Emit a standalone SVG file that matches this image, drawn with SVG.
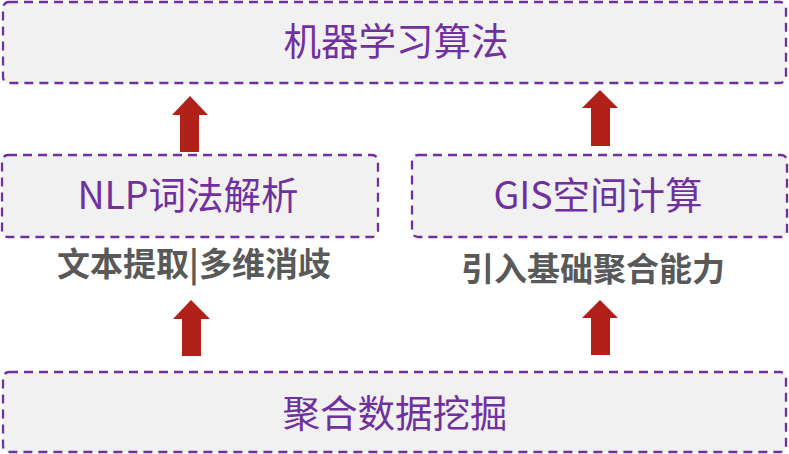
<svg xmlns="http://www.w3.org/2000/svg" width="789" height="454" viewBox="0 0 789 454">
<style>
.box{fill:#F1F1F1;stroke:#7030A0;stroke-width:2.3;stroke-dasharray:9 6}
.t{font-family:"Noto Sans CJK SC","Noto Sans",sans-serif;font-size:37.5px;fill:#7030A0;text-anchor:middle}
.l{font-family:"Noto Sans CJK SC","Noto Sans",sans-serif;font-size:33px;font-weight:bold;fill:#595959;text-anchor:middle}
.arr{fill:#B2201A}
</style>
<rect width="789" height="454" fill="#FFFFFF"/>
<g id="ml">
<rect class="box" x="3" y="2" width="783" height="81" rx="6"/>
<text class="t" x="396" y="55">机器学习算法</text>
</g>
<g id="nlp">
<rect class="box" x="2" y="155" width="376" height="82" rx="6"/>
<text class="t" x="188" y="209">NLP词法解析</text>
</g>
<g id="gis">
<rect class="box" x="412" y="155" width="375" height="82" rx="6"/>
<text class="t" x="598" y="209">GIS空间计算</text>
</g>
<g id="mining">
<rect class="box" x="3" y="372" width="783" height="80" rx="6"/>
<text class="t" x="395" y="427">聚合数据挖掘</text>
</g>
<g id="connectors">
<polygon class="arr" points="190,96 208,115 199,115 199,152 180,152 180,115 172,115"/>
<polygon class="arr" points="600,90 618,108 610,108 610,146 591,146 591,108 582,108"/>
<polygon class="arr" points="191,300 210,319 201,319 201,356 182,356 182,319 173,319"/>
<polygon class="arr" points="600,300 618,318 610,318 610,355 591,355 591,318 582,318"/>
<text class="l" x="194" y="276">文本提取|多维消歧</text>
<text class="l" x="593" y="281">引入基础聚合能力</text>
</g>
</svg>
